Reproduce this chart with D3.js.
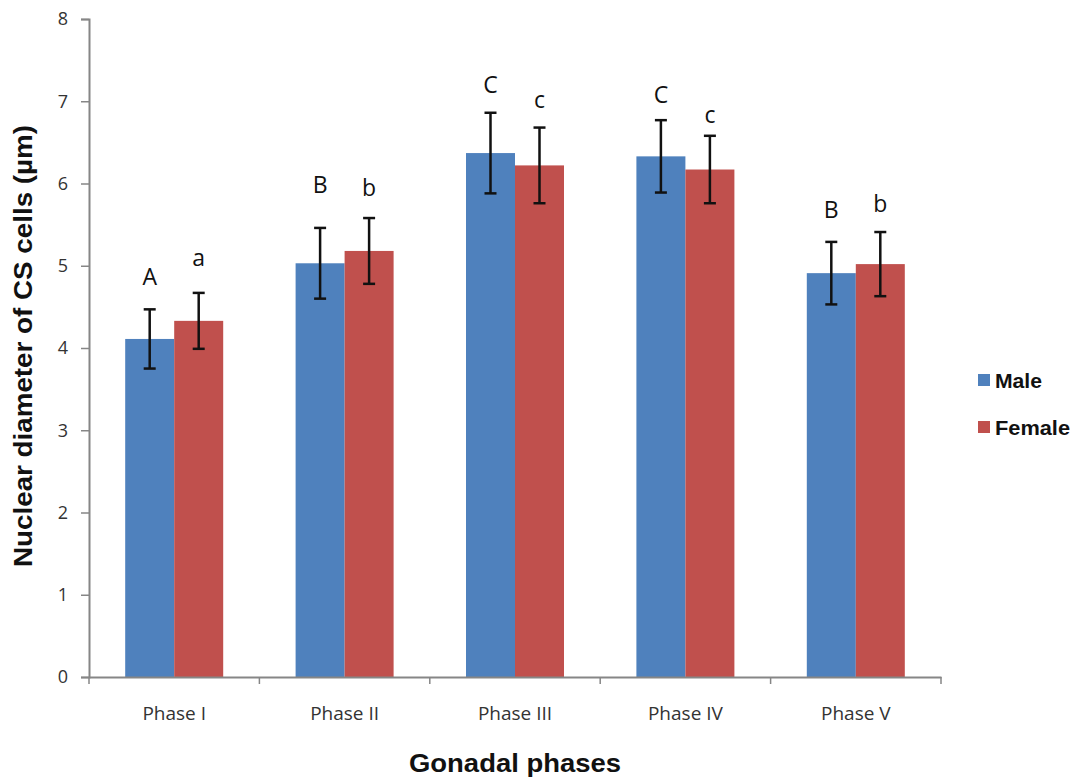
<!DOCTYPE html>
<html>
<head>
<meta charset="utf-8">
<script src="https://cdn.jsdelivr.net/npm/d3@7"></script>
<style>
  body { margin: 0; background: #fff; }
  svg { display: block; font-family: "Liberation Sans", Arial, sans-serif; }
</style>
</head>
<body>
<svg width="1076" height="777"></svg>
<script>
// data
const phases = ['Phase I', 'Phase II', 'Phase III', 'Phase IV', 'Phase V'];
const series = ['Male', 'Female'];
const maleMean = [4.11, 5.03, 6.37, 6.33, 4.91];
const maleErr = [0.36, 0.43, 0.49, 0.44, 0.38];
const femaleMean = [4.33, 5.18, 6.22, 6.17, 5.02];
const femaleErr = [0.34, 0.40, 0.46, 0.41, 0.39];
const maleLetters = ['A', 'B', 'C', 'C', 'B'];
const femaleLetters = ['a', 'b', 'c', 'c', 'b'];
const maleLetterPos = [4.86, 5.98, 7.20, 7.08, 5.68];
const femaleLetterPos = [5.09, 5.95, 7.02, 6.83, 5.75];
const yTicks = [0, 1, 2, 3, 4, 5, 6, 7, 8];
const colors = ['#4F81BD', '#C0504D'];

const svg = d3.select('svg');
const plotLeft = 89, plotRight = 941, plotTop = 19, plotBottom = 677;

let x = d3.scaleBand()
  .domain(phases)
  .range([plotLeft, plotRight])
  .paddingInner(0)
  .paddingOuter(0);

let y = d3.scaleLinear()
  .domain([0, 8])
  .range([plotBottom, plotTop]);

let xSub = d3.scaleBand()
  .domain(series)
  .range([0, 98]);

const rows = phases.map((p, i) => [
  { phase: p, s: 'Male', v: maleMean[i], e: maleErr[i], letter: maleLetters[i], lp: maleLetterPos[i], c: colors[0] },
  { phase: p, s: 'Female', v: femaleMean[i], e: femaleErr[i], letter: femaleLetters[i], lp: femaleLetterPos[i], c: colors[1] }
]).flat();

const barX = d => x(d.phase) + x.bandwidth() / 2 - 49 + xSub(d.s);
const barC = d => barX(d) + xSub.bandwidth() / 2;

// y axis
let yAxis = svg.append('g')
  .attr('transform', `translate(${plotLeft},0)`)
  .call(d3.axisLeft(y).tickValues(yTicks).tickSize(8).tickPadding(13).tickFormat(d3.format('d')));
yAxis.select('.domain').attr('stroke', '#868686').attr('stroke-width', 2);
yAxis.selectAll('.tick line').attr('stroke', '#868686').attr('stroke-width', 1.5);
yAxis.selectAll('.tick text').attr('font-size', '18px').attr('fill', '#333')
  .attr('font-family', '"Open Sans", sans-serif');

// bars
svg.append('g').selectAll('rect')
  .data(rows)
  .enter()
  .append('rect')
    .attr('x', barX)
    .attr('y', d => y(d.v))
    .attr('width', xSub.bandwidth())
    .attr('height', d => y(0) - y(d.v))
    .attr('fill', d => d.c);

// x axis
let xAxis = svg.append('g')
  .attr('transform', `translate(0,${plotBottom})`)
  .call(d3.axisBottom(x).tickSize(0).tickPadding(30));
xAxis.select('.domain').attr('stroke', '#868686').attr('stroke-width', 2);
xAxis.selectAll('.tick text').attr('font-size', '19px').attr('fill', '#333')
  .attr('font-family', '"Open Sans", sans-serif');
xAxis.selectAll('.sep')
  .data(phases.map(p => x(p)).concat([plotRight]))
  .enter()
  .append('line')
    .attr('class', 'sep')
    .attr('x1', d => d).attr('x2', d => d)
    .attr('y1', 0).attr('y2', 7)
    .attr('stroke', '#868686').attr('stroke-width', 1.5);

// error bars
let err = svg.append('g').attr('stroke', '#111').attr('stroke-width', 2.5);
rows.forEach(d => {
  let cx = barC(d);
  err.append('line').attr('x1', cx).attr('x2', cx).attr('y1', y(d.v + d.e)).attr('y2', y(d.v - d.e));
  err.append('line').attr('x1', cx - 6).attr('x2', cx + 6).attr('y1', y(d.v + d.e)).attr('y2', y(d.v + d.e));
  err.append('line').attr('x1', cx - 6).attr('x2', cx + 6).attr('y1', y(d.v - d.e)).attr('y2', y(d.v - d.e));
});

// significance letters
svg.append('g').selectAll('text')
  .data(rows)
  .enter()
  .append('text')
    .attr('x', barC)
    .attr('y', d => y(d.lp))
    .attr('dy', '0.35em')
    .attr('text-anchor', 'middle')
    .attr('font-size', '23px')
    .attr('font-family', '"Open Sans", sans-serif')
    .attr('fill', '#111')
    .text(d => d.letter);

// axis titles
svg.append('text')
  .attr('transform', 'translate(32,346) rotate(-90)')
  .attr('text-anchor', 'middle')
  .attr('font-size', '25px')
  .attr('font-weight', 'bold')
  .attr('fill', '#111')
  .attr('textLength', 442)
  .attr('lengthAdjust', 'spacingAndGlyphs')
  .text('Nuclear diameter of CS cells (µm)');

svg.append('text')
  .attr('x', 515)
  .attr('y', 772)
  .attr('text-anchor', 'middle')
  .attr('font-size', '25px')
  .attr('font-weight', 'bold')
  .attr('fill', '#111')
  .attr('textLength', 212)
  .attr('lengthAdjust', 'spacingAndGlyphs')
  .text('Gonadal phases');

// legend
const legendWidths = [47, 75];
let legend = svg.append('g').selectAll('g')
  .data(series)
  .enter()
  .append('g')
    .attr('transform', (d, i) => `translate(978,${380 + i * 47})`);
legend.append('rect')
  .attr('x', 0).attr('y', -6)
  .attr('width', 12).attr('height', 12)
  .attr('fill', (d, i) => colors[i]);
legend.append('text')
  .attr('x', 17)
  .attr('dy', '0.36em')
  .attr('font-size', '21px')
  .attr('font-weight', 'bold')
  .attr('fill', '#111')
  .attr('textLength', (d, i) => legendWidths[i])
  .attr('lengthAdjust', 'spacingAndGlyphs')
  .text(d => d);
</script>
</body>
</html>
